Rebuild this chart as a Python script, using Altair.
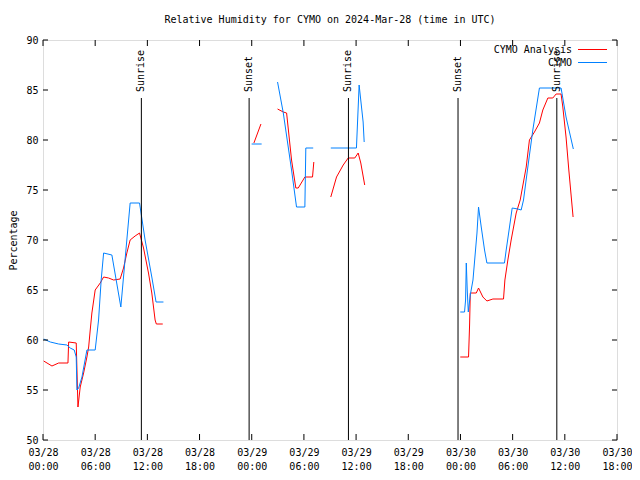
import altair as alt
import pandas as pd

FONT = "DejaVu Sans Mono"

# ---- data (hours since 2024-03-28 00:00 UTC) ----
tick_hours = [0, 6, 12, 18, 24, 30, 36, 42, 48, 54, 60, 66]
tick_dates = ["03/28"] * 4 + ["03/29"] * 4 + ["03/30"] * 4
tick_times = ["00:00", "06:00", "12:00", "18:00"] * 3
y_ticks = [50, 55, 60, 65, 70, 75, 80, 85, 90]

analysis_hours = [0.08, 1.03, 1.80, 2.87, 2.95, 3.82, 4.02, 4.28, 4.67, 5.05, 5.25, 5.43, 5.62, 6.00,
                  6.58, 6.97, 7.54, 8.12, 8.87, 9.26, 9.64, 10.02, 10.59, 11.10, 11.56, 12.13, 12.51,
                  12.89, 13.03, 13.77, None,
                  24.25, 25.06, None,
                  26.97, 27.63, 28.01, 28.58, 29.07, 29.35, 30.11, 30.99, 31.14, None,
                  33.09, 33.75, 34.52, 35.09, 35.85, 36.24, 36.54, 36.99, None,
                  47.98, 48.93, 49.05, 49.13, 49.82, 50.08, 50.58, 51.04, 51.73, 52.95, 53.11, 53.45,
                  53.83, 54.41, 54.87, 55.56, 55.93, 56.51, 57.08, 57.47, 58.05, 58.62, 59.00, 59.57,
                  59.77, 60.14, 60.46, 60.95]
analysis_rh = [57.9, 57.4, 57.7, 57.7, 59.8, 59.7, 53.3, 55.3, 56.7, 58.3, 59.3, 61.0, 62.7, 65.0,
               65.7, 66.3, 66.2, 66.0, 66.1, 67.2, 68.7, 70.0, 70.4, 70.7, 69.2, 66.7, 64.7,
               62.0, 61.6, 61.6, None,
               79.7, 81.6, None,
               83.1, 82.8, 82.7, 78.0, 75.2, 75.2, 76.3, 76.3, 77.8, None,
               74.3, 76.3, 77.5, 78.2, 78.2, 78.7, 77.7, 75.5, None,
               58.3, 58.3, 61.5, 64.7, 64.7, 65.2, 64.3, 63.9, 64.1, 64.1, 66.0, 68.0,
               70.0, 72.7, 74.0, 77.3, 80.0, 80.8, 81.7, 83.0, 84.2, 84.2, 84.6, 84.6,
               83.3, 80.3, 77.0, 72.3]

cymo_hours = [0.08, 0.84, 1.80, 2.75, 3.13, 3.59, 3.82, 3.90, 4.10, 4.48, 5.05, 6.00, 6.39, 6.69,
              6.97, 7.92, 8.95, 10.02, 11.10, 11.74, 12.51, 13.00, 13.85, None,
              23.99, 25.14, None,
              26.97, 27.63, 28.58, 29.15, 30.11, 30.22, 31.07, None,
              33.09, 36.04, 36.35, 36.81, 36.93, None,
              47.98, 48.47, 48.59, 48.67, 48.78, 48.90, 49.13, 49.44, 49.90, 50.08, 50.39, 50.77,
              51.04, 53.06, 53.26, 53.64, 53.95, 54.60, 54.98, 55.25, 55.75, 56.32, 57.08, 59.57,
              60.14, 60.98]
cymo_rh = [60.1, 59.8, 59.6, 59.5, 59.2, 59.0, 58.3, 55.0, 55.2, 56.3, 59.0, 59.0, 62.0, 66.0,
           68.7, 68.5, 63.3, 73.7, 73.7, 70.0, 66.3, 63.8, 63.8, None,
           79.6, 79.6, None,
           85.8, 82.7, 77.0, 73.3, 73.3, 79.2, 79.2, None,
           79.2, 79.2, 85.5, 81.8, 79.8, None,
           62.8, 62.8, 64.0, 67.7, 65.0, 62.8, 64.5, 66.0, 70.7, 73.3, 71.3, 69.0,
           67.7, 67.7, 69.0, 71.3, 73.2, 73.1, 73.0, 74.0, 77.3, 81.0, 85.2, 85.2,
           82.3, 79.1]

event_hours = [11.31, 23.70, 35.12, 47.72, 59.08]
event_labels = ["Sunrise", "Sunset", "Sunrise", "Sunset", "Sunrise"]

series_names = ["CYMO Analysis", "CYMO"]
series_colors = ["#ff0000", "#0080ff"]


def build(hours, vals, name):
    rows, seg = [], 0
    for h, v in zip(hours, vals):
        if h is None or v is None:
            seg += 1
            continue
        rows.append({"hour": h, "rh": v, "seg": seg, "series": name})
    return pd.DataFrame(rows)


df_a = build(analysis_hours, analysis_rh, series_names[0])
df_c = build(cymo_hours, cymo_rh, series_names[1])
df_ev = pd.DataFrame({"hour": event_hours, "label": event_labels})
df_xt = pd.DataFrame({"hour": tick_hours})
df_yt = pd.DataFrame({"v": y_ticks})

W, H = 574, 400
xscale = alt.Scale(domain=[0, 66], nice=False, zero=False)
yscale = alt.Scale(domain=[50, 90], nice=False, zero=False)

label_expr = " : ".join(
    f"datum.value == {h} ? ['{d}', '{t}']" for h, d, t in zip(tick_hours, tick_dates, tick_times)
) + " : ''"

xaxis = alt.Axis(values=tick_hours, labelExpr=label_expr, title=None, ticks=False, domain=False,
                 grid=False, labelFont=FONT, labelFontSize=10, labelPadding=7, labelLineHeight=14,
                 labelColor="black", labelFlush=False, labelOverlap=False)
yaxis = alt.Axis(values=y_ticks, title="Percentage", ticks=False, domain=False, grid=False,
                 labelFont=FONT, labelFontSize=10, labelPadding=5, labelColor="black",
                 titleFont=FONT, titleFontSize=10, titleFontWeight="normal", titleColor="black",
                 titleX=-30, titleY=H / 2, titleBaseline="middle", titleAlign="center", titleAngle=270)

base_x = alt.X("hour:Q", scale=xscale, axis=xaxis)
base_y = alt.Y("rh:Q", scale=yscale, axis=yaxis)

line_a = alt.Chart(df_a).mark_line(strokeWidth=1, color=series_colors[0]).encode(
    x=base_x, y=base_y, detail="seg:N")
line_c = alt.Chart(df_c).mark_line(strokeWidth=1, color=series_colors[1]).encode(
    x=alt.X("hour:Q", scale=xscale), y=alt.Y("rh:Q", scale=yscale), detail="seg:N")

ev_rule = alt.Chart(df_ev).mark_rule(color="black", strokeWidth=1).encode(
    x=alt.X("hour:Q", scale=xscale), y=alt.value(58), y2=alt.value(H))
ev_text = alt.Chart(df_ev).mark_text(angle=270, align="left", baseline="middle", font=FONT,
                                     fontSize=10, color="black").encode(
    x=alt.X("hour:Q", scale=xscale), y=alt.value(52), text="label:N")

xt_bot = alt.Chart(df_xt).mark_rule(color="black").encode(
    x=alt.X("hour:Q", scale=xscale), y=alt.value(H - 6), y2=alt.value(H))
xt_top = alt.Chart(df_xt).mark_rule(color="black").encode(
    x=alt.X("hour:Q", scale=xscale), y=alt.value(0), y2=alt.value(6))
yt_left = alt.Chart(df_yt).mark_rule(color="black").encode(
    y=alt.Y("v:Q", scale=yscale), x=alt.value(0), x2=alt.value(5))
yt_right = alt.Chart(df_yt).mark_rule(color="black").encode(
    y=alt.Y("v:Q", scale=yscale), x=alt.value(W - 5), x2=alt.value(W))

leg_df = pd.DataFrame({"label": series_names, "color": series_colors})
leg_text_a = alt.Chart(leg_df.iloc[[0]]).mark_text(align="right", baseline="middle", font=FONT,
                                                    fontSize=10, color="black").encode(
    x=alt.value(529), y=alt.value(10), text="label:N")
leg_text_c = alt.Chart(leg_df.iloc[[1]]).mark_text(align="right", baseline="middle", font=FONT,
                                                    fontSize=10, color="black").encode(
    x=alt.value(529), y=alt.value(23), text="label:N")
leg_line_a = alt.Chart(leg_df.iloc[[0]]).mark_rule(color=series_colors[0], strokeWidth=1).encode(
    x=alt.value(535), x2=alt.value(564), y=alt.value(9.5))
leg_line_c = alt.Chart(leg_df.iloc[[1]]).mark_rule(color=series_colors[1], strokeWidth=1).encode(
    x=alt.value(535), x2=alt.value(564), y=alt.value(22.5))

chart = alt.layer(
    line_a, line_c, ev_rule, ev_text, xt_bot, xt_top, yt_left, yt_right,
    leg_text_a, leg_text_c, leg_line_a, leg_line_c
).properties(
    width=W, height=H,
    title=alt.TitleParams("Relative Humidity for CYMO on 2024-Mar-28 (time in UTC)", font=FONT,
                          fontSize=10, fontWeight="normal", color="black", anchor="middle", offset=10),
    autosize=alt.AutoSizeParams(type="none"),
    padding={"left": 35, "top": 32, "right": 15, "bottom": 30},
).configure_view(stroke="black", strokeWidth=1).configure(background="white")

chart.save("out.html", embed_options={"renderer": "svg", "actions": False})
